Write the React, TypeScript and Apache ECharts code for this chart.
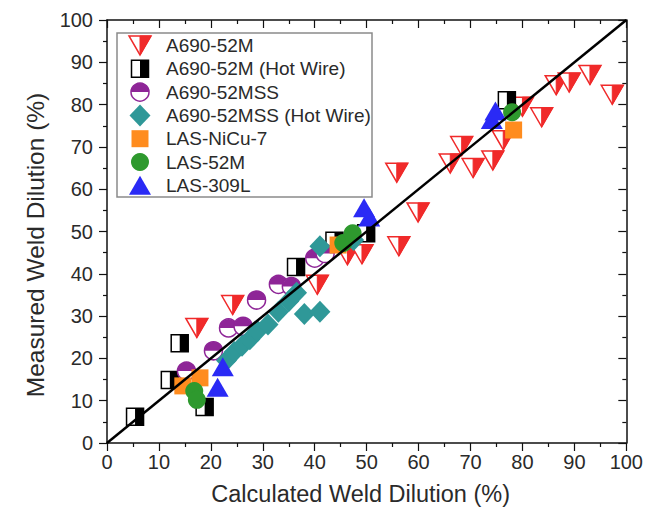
import React, { useEffect, useRef } from "react";
import * as echarts from "echarts";

// ---- data ----
const xTicks = [0, 10, 20, 30, 40, 50, 60, 70, 80, 90, 100];

const seriesNames = [
  "A690-52M",
  "A690-52M (Hot Wire)",
  "A690-52MSS",
  "A690-52MSS (Hot Wire)",
  "LAS-NiCu-7",
  "LAS-52M",
  "LAS-309L",
];

const a52mX = [17.3, 24.2, 40.5, 46.3, 49.1, 56.2, 59.9, 55.8, 66.1, 68.3, 70.5, 74.3, 76.3, 80.0, 83.7, 86.5, 89.0, 93.0, 97.3];
const a52mY = [27.2, 32.6, 37.4, 44.4, 44.6, 46.5, 54.5, 63.9, 66.1, 70.2, 65.0, 66.8, 71.6, 79.5, 77.0, 84.6, 85.2, 87.0, 82.3];

const a52mHwX = [5.4, 12.1, 14.0, 18.8, 36.4, 43.8, 49.9, 77.0];
const a52mHwY = [6.2, 14.9, 23.6, 8.5, 41.6, 47.8, 49.6, 81.0];

const mssX = [15.3, 20.5, 23.4, 26.2, 28.8, 33.0, 35.5, 40.0, 42.0];
const mssY = [17.0, 21.8, 27.2, 27.6, 33.8, 37.5, 37.0, 43.7, 44.8];

const mssHwX = [23.0, 24.5, 26.0, 27.5, 29.0, 31.0, 33.0, 35.0, 36.5, 38.0, 41.0, 41.0, 47.5];
const mssHwY = [19.5, 21.5, 23.0, 24.5, 26.5, 28.0, 31.0, 33.5, 35.5, 30.5, 31.0, 46.5, 48.0];

const nicuX = [14.6, 17.9, 44.5, 78.3];
const nicuY = [13.5, 15.4, 46.8, 74.0];

const las52X = [16.8, 17.3, 45.5, 47.3, 78.0];
const las52Y = [12.3, 10.2, 47.3, 49.6, 78.2];

const l309X = [21.3, 22.3, 49.5, 50.5, 74.1, 74.8];
const l309Y = [13.2, 18.0, 55.6, 53.4, 76.5, 78.5];

const diagX = [0, 100];
const diagY = [0, 100];

const xTitle = "Calculated Weld Dilution (%)";
const yTitle = "Measured Weld Dilution (%)";

// ---- styling ----
const RED = "#f02a2a";
const BLACK = "#000000";
const PURPLE = "#8e2597";
const TEAL = "#2f9898";
const ORANGE = "#ff8c1e";
const GREEN = "#2e992e";
const BLUE = "#2a2af5";
const FONT = '"Liberation Sans", Arial, sans-serif';
const TXT = "#2a2a2a";

const zip = (xs: number[], ys: number[]) => xs.map((x, i) => [x, ys[i]]);

function halfTri(cx: number, cy: number, color: string) {
  const w = 22, h = 19;
  const t = cy - h / 2, b = cy + h / 2, l = cx - w / 2, r = cx + w / 2;
  return [
    { type: "polygon", shape: { points: [[l, t], [r, t], [cx, b]] }, style: { fill: "#fff", stroke: color, lineWidth: 1.5 } },
    { type: "polygon", shape: { points: [[cx, t], [r, t], [cx, b]] }, style: { fill: color, stroke: color, lineWidth: 1 } },
  ];
}
function halfSq(cx: number, cy: number, color: string) {
  const s = 17;
  return [
    { type: "rect", shape: { x: cx - s / 2, y: cy - s / 2, width: s, height: s }, style: { fill: "#fff", stroke: color, lineWidth: 1.5 } },
    { type: "rect", shape: { x: cx, y: cy - s / 2, width: s / 2, height: s }, style: { fill: color } },
  ];
}
function halfCirc(cx: number, cy: number, color: string) {
  const r = 9;
  return [
    { type: "circle", shape: { cx, cy, r }, style: { fill: "#fff", stroke: color, lineWidth: 1.5 } },
    { type: "sector", shape: { cx, cy, r0: 0, r, startAngle: Math.PI, endAngle: Math.PI * 2, clockwise: true }, style: { fill: color } },
  ];
}
function solidDiamond(cx: number, cy: number, color: string) {
  const w = 21, h = 22;
  return [{ type: "polygon", shape: { points: [[cx, cy - h / 2], [cx + w / 2, cy], [cx, cy + h / 2], [cx - w / 2, cy]] }, style: { fill: color } }];
}
function solidSq(cx: number, cy: number, color: string) {
  const s = 17;
  return [{ type: "rect", shape: { x: cx - s / 2, y: cy - s / 2, width: s, height: s }, style: { fill: color } }];
}
function solidCirc(cx: number, cy: number, color: string) {
  return [{ type: "circle", shape: { cx, cy, r: 9 }, style: { fill: color } }];
}
function solidTriUp(cx: number, cy: number, color: string) {
  const w = 22, h = 19;
  return [{ type: "polygon", shape: { points: [[cx - w / 2, cy + h / 2], [cx + w / 2, cy + h / 2], [cx, cy - h / 2]] }, style: { fill: color } }];
}

const shapeFns = [halfTri, halfSq, halfCirc, solidDiamond, solidSq, solidCirc, solidTriUp];
const colors = [RED, BLACK, PURPLE, TEAL, ORANGE, GREEN, BLUE];
const dataSets = [
  zip(a52mX, a52mY),
  zip(a52mHwX, a52mHwY),
  zip(mssX, mssY),
  zip(mssHwX, mssHwY),
  zip(nicuX, nicuY),
  zip(las52X, las52Y),
  zip(l309X, l309Y),
];

export default function App() {
  const ref = useRef<HTMLDivElement>(null);
  useEffect(() => {
    if (!ref.current) return;
    const chart = echarts.init(ref.current, null, { renderer: "svg" });

    const markerSeries = seriesNames.map((name, si) => ({
      type: "custom",
      name,
      coordinateSystem: "cartesian2d",
      xAxisIndex: 0,
      yAxisIndex: 0,
      data: dataSets[si],
      z: 3,
      renderItem: (params: any, api: any) => {
        const p = api.coord([api.value(0), api.value(1)]);
        return { type: "group", children: shapeFns[si](p[0], p[1], colors[si]) };
      },
    }));

    // legend drawn with graphic elements
    const legX = 117, legY = 33, legW = 255, legH = 164;
    const rowY0 = 45.5, rowDy = 23.3, iconX = 140, textX = 166;
    const legendChildren: any[] = [
      { type: "rect", shape: { x: legX, y: legY, width: legW, height: legH }, style: { fill: "#fff", stroke: "#8a8a8a", lineWidth: 1.5 } },
    ];
    seriesNames.forEach((name, i) => {
      const cy = rowY0 + i * rowDy;
      shapeFns[i](iconX, cy, colors[i]).forEach((el: any) => legendChildren.push(el));
      legendChildren.push({
        type: "text",
        x: textX,
        y: cy,
        style: { text: name, font: `19px ${FONT}`, fill: TXT, verticalAlign: "middle", textVerticalAlign: "middle", align: "left" },
      });
    });

    const axisCommon = {
      type: "value",
      min: 0,
      max: 100,
      interval: 10,
      splitLine: { show: false },
    };

    chart.setOption({
      animation: false,
      backgroundColor: "#fff",
      grid: { left: 107, right: 18, top: 20, bottom: 75 },
      xAxis: [
        {
          ...axisCommon,
          position: "bottom",
          name: xTitle,
          nameLocation: "middle",
          nameGap: 39,
          nameTextStyle: { fontSize: 23.5, fontFamily: FONT, color: TXT, padding: [0, 12, 0, 0] },
          axisLine: { show: true, onZero: false, lineStyle: { color: "#111", width: 1.5 } },
          axisTick: { show: true, inside: false, length: 8, lineStyle: { color: "#111", width: 1.2 } },
          minorTick: { show: true, splitNumber: 2, length: 4, lineStyle: { color: "#111", width: 1.2 } },
          axisLabel: { fontSize: 20, fontFamily: FONT, color: TXT, margin: 9 },
          data: xTicks,
        },
        {
          ...axisCommon,
          position: "top",
          axisLine: { show: true, onZero: false, lineStyle: { color: "#111", width: 1.5 } },
          axisTick: { show: true, inside: true, length: 8, lineStyle: { color: "#111", width: 1.2 } },
          minorTick: { show: true, splitNumber: 2, length: 4, lineStyle: { color: "#111", width: 1.2 } },
          axisLabel: { show: false },
        },
      ],
      yAxis: [
        {
          ...axisCommon,
          position: "left",
          axisLine: { show: true, onZero: false, lineStyle: { color: "#111", width: 1.5 } },
          axisTick: { show: true, inside: false, length: 8, lineStyle: { color: "#111", width: 1.2 } },
          minorTick: { show: true, splitNumber: 2, length: 4, lineStyle: { color: "#111", width: 1.2 } },
          axisLabel: { fontSize: 20, fontFamily: FONT, color: TXT, margin: 14 },
        },
        {
          ...axisCommon,
          position: "right",
          axisLine: { show: true, onZero: false, lineStyle: { color: "#111", width: 1.5 } },
          axisTick: { show: true, inside: true, length: 8, lineStyle: { color: "#111", width: 1.2 } },
          minorTick: { show: true, splitNumber: 2, length: 4, lineStyle: { color: "#111", width: 1.2 } },
          axisLabel: { show: false },
        },
      ],
      graphic: [
        { type: "group", z: 100, children: legendChildren },
        {
          type: "text",
          x: 35,
          y: 245,
          rotation: Math.PI / 2,
          style: { text: yTitle, font: `24.5px ${FONT}`, fill: TXT, align: "center", verticalAlign: "middle", textAlign: "center", textVerticalAlign: "middle" },
        },
      ],
      series: [
        ...markerSeries,
        {
          type: "line",
          name: "1:1",
          data: zip(diagX, diagY),
          xAxisIndex: 0,
          yAxisIndex: 0,
          symbol: "none",
          z: 10,
          lineStyle: { color: "#000", width: 2.5 },
        },
      ],
    });
    return () => chart.dispose();
  }, []);

  return <div ref={ref} style={{ position: "fixed", left: 0, top: 0, width: 646, height: 518 }} />;
}
